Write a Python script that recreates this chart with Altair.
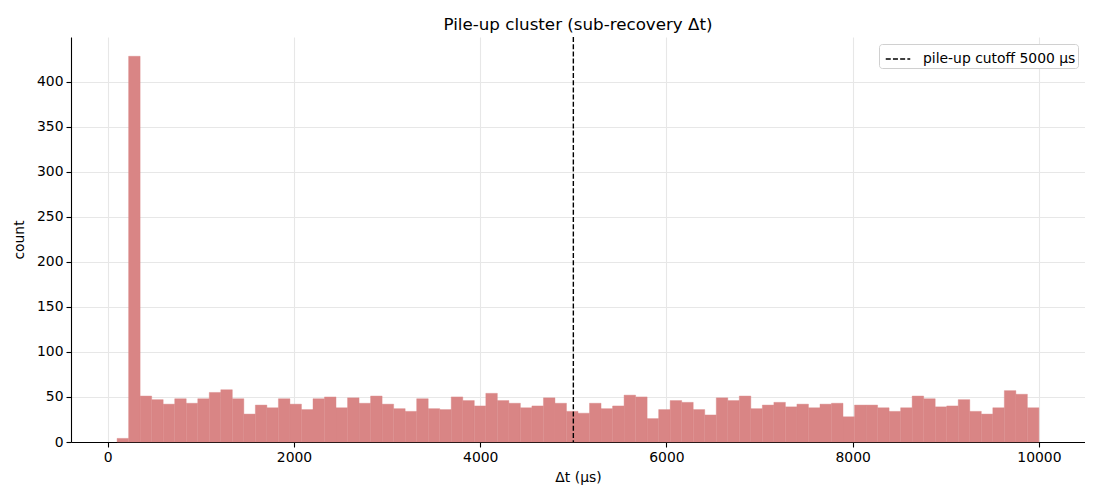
import altair as alt
import pandas as pd

counts = [4, 428, 51, 47, 42, 48, 43, 48, 55, 58,
          48, 31, 41, 38, 48, 42, 36, 48, 50, 38,
          49, 43, 51, 42, 37, 34, 48, 37, 36, 50,
          46, 40, 54, 46, 43, 38, 40, 49, 43, 34,
          32, 43, 37, 40, 52, 50, 26, 36, 46, 44,
          36, 30, 49, 46, 51, 37, 41, 44, 39, 42,
          38, 42, 43, 28, 41, 41, 38, 34, 38, 51,
          48, 39, 40, 47, 34, 31, 38, 57, 53, 38]
bin_lo = 100.0
bin_hi = 10000.0
n_bins = len(counts)
bin_w = (bin_hi - bin_lo) / n_bins
starts = [bin_lo + i * bin_w for i in range(n_bins)]
ends = [bin_lo + (i + 1) * bin_w for i in range(n_bins)]

cutoff = [5000]
cutoff_label = ["pile-up cutoff 5000 μs"]

x_ticks = [0, 2000, 4000, 6000, 8000, 10000]
y_ticks = [0, 50, 100, 150, 200, 250, 300, 350, 400]

bars_df = pd.DataFrame({"start": starts, "end": ends, "count": counts})
rule_df = pd.DataFrame({"x": cutoff, "label": cutoff_label})

FONT = "DejaVu Sans"
BAR = "#D98585"
xscale = alt.Scale(domain=[-395, 10495], nice=False, zero=False)
yscale = alt.Scale(domain=[0, 449.4], nice=False)

bars = alt.Chart(bars_df).mark_rect(color=BAR, stroke=BAR, strokeWidth=0.4).encode(
    x=alt.X("start:Q", scale=xscale,
            axis=alt.Axis(title="Δt (μs)", values=x_ticks, format="d", titlePadding=7)),
    x2="end:Q",
    y=alt.Y("count:Q", scale=yscale,
            axis=alt.Axis(title="count", values=y_ticks, titlePadding=10)),
    y2=alt.datum(0),
)

rule = alt.Chart(rule_df).mark_rule(strokeDash=[5, 2.2], strokeWidth=1.4).encode(
    x=alt.X("x:Q", scale=xscale),
    color=alt.Color("label:N", scale=alt.Scale(range=["black"]),
                    legend=alt.Legend(title=None, orient="top-right", offset=7,
                                      symbolType="stroke", symbolDash=[5, 2.2],
                                      symbolStrokeWidth=1.4, symbolSize=600,
                                      symbolOffset=4, labelOffset=12,
                                      labelFont=FONT, labelFontSize=13.9,
                                      labelColor="black",
                                      fillColor="white", strokeColor="#d0d0d0",
                                      cornerRadius=3, padding=2)),
)

chart = (bars + rule).properties(
    width=1014, height=405,
    title=alt.Title(text="Pile-up cluster (sub-recovery Δt)",
                    font=FONT, fontSize=16.7, fontWeight="normal", color="black",
                    offset=3),
    padding={"left": 4, "top": 8, "right": 0, "bottom": 2},
).configure_view(stroke=None).configure_axis(
    labelFont=FONT, labelFontSize=13.9, labelColor="black",
    titleFont=FONT, titleFontSize=13.9, titleColor="black", titleFontWeight="normal",
    domainColor="black", domainWidth=1.1, tickColor="black", tickWidth=1.1, tickSize=5,
    gridColor="#e7e7e7", gridWidth=1.1, labelPadding=3,
)

chart.save("out.html", embed_options={"renderer": "svg", "actions": False})
